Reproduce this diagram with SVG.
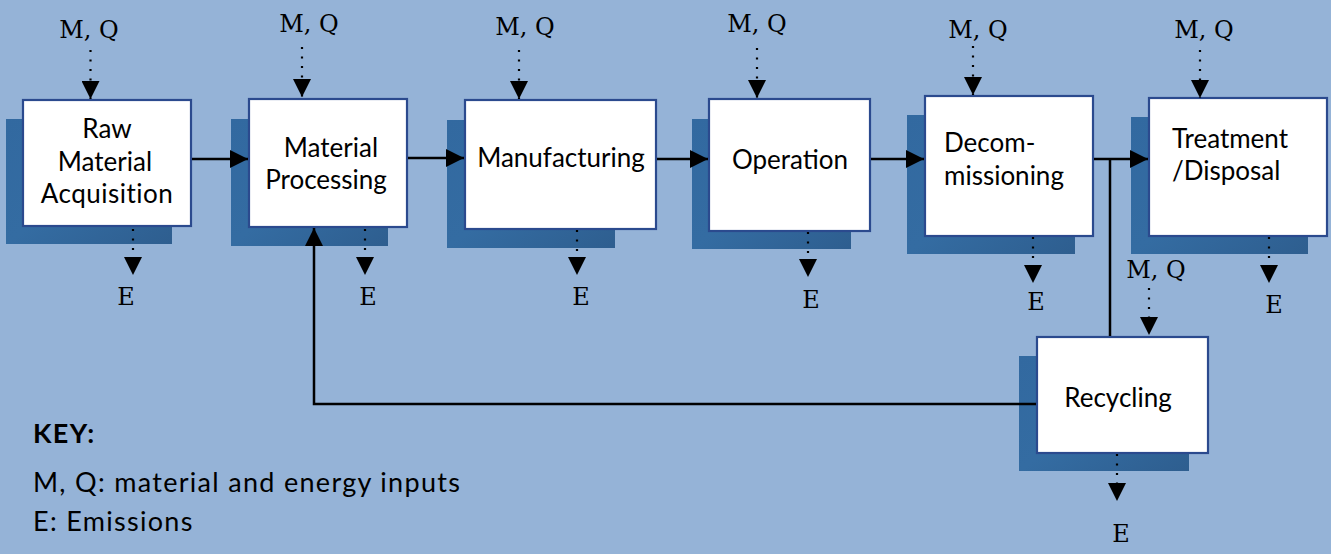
<svg xmlns="http://www.w3.org/2000/svg" width="1331" height="554" viewBox="0 0 1331 554">
<defs>
<linearGradient id="sh" x1="0" y1="0" x2="1" y2="1">
<stop offset="0" stop-color="#3269A0"/>
<stop offset="0.5" stop-color="#346CA2"/>
<stop offset="1" stop-color="#2E5E8F"/>
</linearGradient>
<marker id="ah" markerUnits="userSpaceOnUse" markerWidth="18" markerHeight="18" viewBox="0 0 18 18" refX="18" refY="9" orient="auto">
<path d="M0,0 L18,9 L0,18 Z" fill="#000"/>
</marker>
<style>
.shadow{fill:url(#sh)}
.box{fill:#fff;stroke:#2B4A8E;stroke-width:2.2}
.lbl{font-family:Lato,"Open Sans",sans-serif;font-size:26px;fill:#000}
.key{font-family:Lato,"Open Sans",sans-serif;font-size:27px;letter-spacing:1.3px;fill:#000}
.mq{font-family:"DejaVu Serif","Liberation Serif",serif;font-size:24px;fill:#000;text-anchor:middle}
.solid{stroke:#000;stroke-width:2.5;fill:none}
.dot{stroke:#000;stroke-width:2.2;fill:none;stroke-dasharray:2 7.5}
.arr{marker-end:url(#ah)}
</style>
</defs>
<rect x="0" y="0" width="1331" height="554" fill="#95B3D7"/>

<g id="raw-material-acquisition">
<rect class="shadow" x="6" y="119" width="166" height="125"/>
<rect class="box" x="23" y="100" width="168" height="126"/>
<text class="lbl" text-anchor="middle" x="107" y="138">Raw</text>
<text class="lbl" text-anchor="middle" x="105" y="171">Material</text>
<text class="lbl" text-anchor="middle" x="107" y="203" letter-spacing="0.5">Acquisition</text>
</g>

<g id="material-processing">
<rect class="shadow" x="231" y="119" width="157" height="127"/>
<rect class="box" x="249" y="99" width="158" height="128"/>
<text class="lbl" text-anchor="middle" x="331" y="157">Material</text>
<text class="lbl" text-anchor="middle" x="326" y="189">Processing</text>
</g>

<g id="manufacturing">
<rect class="shadow" x="447" y="120" width="168" height="128"/>
<rect class="box" x="465" y="100" width="191" height="129"/>
<text class="lbl" text-anchor="middle" x="561" y="167">Manufacturing</text>
</g>

<g id="operation">
<rect class="shadow" x="692" y="119" width="159" height="130"/>
<rect class="box" x="709" y="99" width="161" height="132"/>
<text class="lbl" text-anchor="middle" x="790" y="169">Operation</text>
</g>

<g id="decommissioning">
<rect class="shadow" x="907" y="115" width="168" height="139"/>
<rect class="box" x="925" y="96" width="168" height="140"/>
<text class="lbl" x="944" y="152">Decom-</text>
<text class="lbl" x="944" y="185">missioning</text>
</g>

<g id="treatment-disposal">
<rect class="shadow" x="1131" y="117" width="177" height="137"/>
<rect class="box" x="1149" y="98" width="178" height="138"/>
<text class="lbl" x="1172" y="148">Treatment</text>
<text class="lbl" x="1172" y="180">/Disposal</text>
</g>

<g id="recycling">
<rect class="shadow" x="1019" y="356" width="170" height="115"/>
<rect class="box" x="1037" y="337" width="171" height="116"/>
<text class="lbl" text-anchor="middle" x="1118" y="407">Recycling</text>
</g>

<g id="connectors">
<line class="solid arr" x1="192" y1="159" x2="248" y2="159"/>
<line class="solid arr" x1="408" y1="158" x2="464" y2="158"/>
<line class="solid arr" x1="657" y1="159" x2="708" y2="159"/>
<line class="solid arr" x1="871" y1="159" x2="924" y2="159"/>
<line class="solid arr" x1="1094" y1="159" x2="1148" y2="159"/>
<line class="solid" x1="1110" y1="159" x2="1110" y2="336"/>
<polyline class="solid arr" points="1036,404 314,404 314,228"/>
<line class="dot arr" x1="90.5" y1="50" x2="90.5" y2="99"/>
<line class="dot arr" x1="133" y1="229" x2="133" y2="275"/>
<line class="dot arr" x1="302" y1="47" x2="302" y2="97"/>
<line class="dot arr" x1="365" y1="229" x2="365" y2="275"/>
<line class="dot arr" x1="519" y1="50" x2="519" y2="99"/>
<line class="dot arr" x1="577" y1="230" x2="577" y2="275"/>
<line class="dot arr" x1="757" y1="48" x2="757" y2="98"/>
<line class="dot arr" x1="808" y1="232" x2="808" y2="277"/>
<line class="dot arr" x1="973" y1="46" x2="973" y2="95"/>
<line class="dot arr" x1="1033" y1="237" x2="1033" y2="283"/>
<line class="dot arr" x1="1200" y1="50" x2="1200" y2="98"/>
<line class="dot arr" x1="1269" y1="237" x2="1269" y2="283"/>
<line class="dot arr" x1="1149" y1="288" x2="1149" y2="335"/>
<line class="dot arr" x1="1117" y1="454" x2="1117" y2="501"/>
</g>

<g id="labels">
<text class="mq" x="89" y="38">M, Q</text>
<text class="mq" x="126" y="305">E</text>
<text class="mq" x="309" y="32">M, Q</text>
<text class="mq" x="368" y="305">E</text>
<text class="mq" x="525" y="35">M, Q</text>
<text class="mq" x="581" y="305">E</text>
<text class="mq" x="757" y="32">M, Q</text>
<text class="mq" x="811" y="308">E</text>
<text class="mq" x="978" y="38">M, Q</text>
<text class="mq" x="1036" y="310">E</text>
<text class="mq" x="1204" y="38">M, Q</text>
<text class="mq" x="1274" y="313">E</text>
<text class="mq" x="1156" y="278">M, Q</text>
<text class="mq" x="1121" y="542">E</text>
</g>

<g id="key">
<text class="key" x="33" y="443" font-weight="bold">KEY:</text>
<text class="key" x="33" y="492">M, Q: material and energy inputs</text>
<text class="key" x="33" y="531">E: Emissions</text>
</g>
</svg>
